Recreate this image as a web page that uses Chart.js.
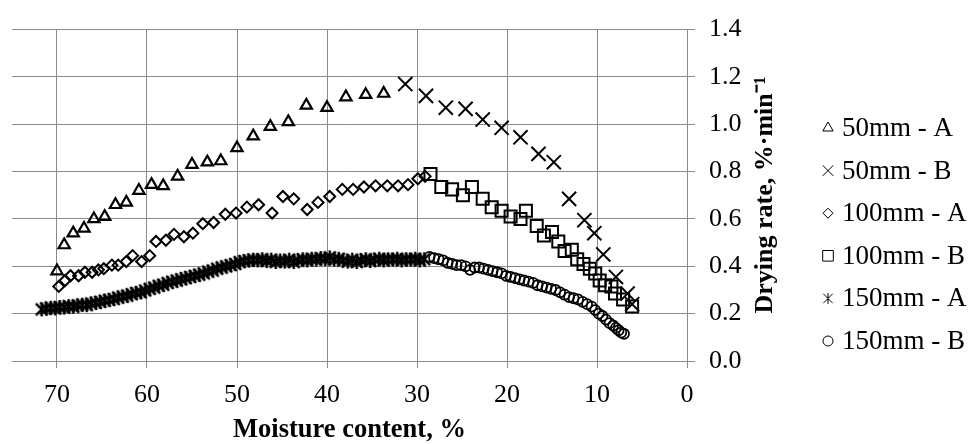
<!DOCTYPE html>
<html>
<head>
<meta charset="utf-8">
<script src="https://cdn.jsdelivr.net/npm/chart.js@4/dist/chart.umd.min.js"></script>
<style>
  html, body { margin: 0; padding: 0; background: #fff; }
</style>
</head>
<body>
<canvas id="chart1" width="969" height="444"></canvas>
<script>
// moisture content (%) and drying rate (%/min) for each run
var mc50A = [70.0, 69.2, 68.2, 67.0, 65.9, 64.7, 63.5, 62.3, 60.9, 59.5, 58.2, 56.6, 55.0, 53.3, 51.8, 50.0, 48.2, 46.3, 44.3, 42.3, 40.0, 37.9, 35.7, 33.7];
var dr50A = [0.38, 0.49, 0.54, 0.56, 0.60, 0.61, 0.66, 0.67, 0.72, 0.745, 0.74, 0.78, 0.83, 0.84, 0.845, 0.90, 0.95, 0.99, 1.01, 1.08, 1.07, 1.115, 1.125, 1.13];

var mc50B = [31.3, 29.0, 26.8, 24.6, 22.7, 20.6, 18.5, 16.5, 14.8, 13.1, 11.4, 10.3, 9.3, 7.9, 6.6, 6.1];
var dr50B = [1.17, 1.12, 1.07, 1.065, 1.02, 0.985, 0.945, 0.875, 0.84, 0.685, 0.595, 0.54, 0.45, 0.355, 0.285, 0.24];

var mc100A = [69.8, 69.1, 68.5, 67.6, 66.9, 66.1, 65.4, 64.8, 63.9, 63.2, 62.3, 61.6, 60.6, 59.7, 59.0, 57.9, 57.0, 55.9, 54.9, 53.8, 52.6, 51.3, 50.1, 48.9, 47.6, 46.1, 44.9, 43.7, 42.2, 41.0, 39.7, 38.3, 37.1, 35.9, 34.6, 33.3, 32.1, 31.0, 29.9, 29.1];
var dr100A = [0.315, 0.34, 0.36, 0.36, 0.375, 0.375, 0.385, 0.39, 0.405, 0.405, 0.42, 0.445, 0.42, 0.445, 0.505, 0.51, 0.535, 0.525, 0.54, 0.58, 0.585, 0.62, 0.625, 0.65, 0.66, 0.625, 0.695, 0.685, 0.64, 0.67, 0.695, 0.725, 0.725, 0.735, 0.74, 0.74, 0.74, 0.745, 0.77, 0.78];

var mc100B = [28.5, 27.3, 26.1, 24.9, 23.9, 22.7, 21.7, 20.6, 19.6, 18.5, 17.9, 16.7, 15.9, 15.0, 14.3, 13.6, 12.8, 12.2, 11.5, 10.8, 10.2, 9.7, 9.1, 8.4, 8.0, 7.1, 6.1];
var dr100B = [0.79, 0.735, 0.725, 0.70, 0.735, 0.685, 0.65, 0.635, 0.61, 0.60, 0.635, 0.57, 0.53, 0.545, 0.505, 0.465, 0.47, 0.43, 0.41, 0.39, 0.37, 0.34, 0.32, 0.315, 0.285, 0.26, 0.23];

var mc150A = [71.7, 71.2, 70.7, 70.2, 69.7, 69.2, 68.7, 68.2, 67.7, 67.2, 66.7, 66.2, 65.7, 65.2, 64.7, 64.2, 63.7, 63.2, 62.7, 62.2, 61.7, 61.2, 60.7, 60.2, 59.7, 59.2, 58.7, 58.2, 57.7, 57.2, 56.7, 56.2, 55.7, 55.2, 54.7, 54.2, 53.7, 53.2, 52.7, 52.2, 51.7, 51.2, 50.7, 50.2, 49.7, 49.2, 48.7, 48.2, 47.7, 47.2, 46.7, 46.2, 45.7, 45.2, 44.7, 44.2, 43.7, 43.2, 42.7, 42.2, 41.7, 41.2, 40.7, 40.2, 39.7, 39.2, 38.7, 38.2, 37.7, 37.2, 36.7, 36.2, 35.7, 35.2, 34.7, 34.2, 33.7, 33.2, 32.7, 32.2, 31.7, 31.2, 30.7, 30.2, 29.7, 29.2];
var dr150A = [0.218, 0.222, 0.225, 0.222, 0.228, 0.226, 0.232, 0.229, 0.235, 0.238, 0.236, 0.243, 0.246, 0.25, 0.255, 0.258, 0.262, 0.268, 0.272, 0.276, 0.282, 0.288, 0.29, 0.298, 0.305, 0.31, 0.318, 0.322, 0.33, 0.335, 0.34, 0.345, 0.35, 0.355, 0.36, 0.365, 0.37, 0.378, 0.382, 0.39, 0.395, 0.40, 0.405, 0.41, 0.418, 0.422, 0.425, 0.428, 0.425, 0.43, 0.422, 0.428, 0.418, 0.425, 0.42, 0.428, 0.418, 0.425, 0.43, 0.425, 0.432, 0.428, 0.435, 0.43, 0.438, 0.428, 0.432, 0.425, 0.42, 0.428, 0.418, 0.425, 0.43, 0.422, 0.428, 0.432, 0.425, 0.43, 0.428, 0.432, 0.425, 0.43, 0.428, 0.432, 0.425, 0.43];

var mc150B = [28.6, 28.1, 27.6, 27.1, 26.6, 26.1, 25.6, 25.1, 24.6, 24.1, 23.6, 23.1, 22.6, 22.1, 21.6, 21.1, 20.6, 20.1, 19.6, 19.1, 18.6, 18.1, 17.6, 17.1, 16.6, 16.1, 15.6, 15.1, 14.6, 14.1, 13.6, 13.1, 12.6, 12.1, 11.6, 11.1, 10.6, 10.2, 9.8, 9.4, 9.0, 8.6, 8.2, 7.9, 7.6, 7.3, 7.0];
var dr150B = [0.44, 0.435, 0.43, 0.425, 0.415, 0.41, 0.405, 0.405, 0.40, 0.385, 0.395, 0.395, 0.39, 0.385, 0.38, 0.375, 0.37, 0.36, 0.355, 0.35, 0.345, 0.34, 0.335, 0.33, 0.32, 0.315, 0.31, 0.305, 0.30, 0.29, 0.28, 0.27, 0.265, 0.26, 0.25, 0.24, 0.23, 0.215, 0.20, 0.19, 0.175, 0.16, 0.15, 0.14, 0.13, 0.12, 0.115];

var seriesLabels = ["50mm - A", "50mm - B", "100mm - A", "100mm - B", "150mm - A", "150mm - B"];
var xTitle = "Moisture content, %";
var yTitle = "Drying rate, %\u00b7min\u207b\u00b9";

var FONT = "'Liberation Serif', 'Times New Roman', serif";

// six-spoke asterisk like the spreadsheet marker
function asterisk(size, lw) {
    var c = document.createElement("canvas");
    c.width = size; c.height = size;
    var g = c.getContext("2d");
    var m = size / 2, r = size / 2 - 1;
    g.strokeStyle = "#000";
    g.lineWidth = lw;
    g.beginPath();
    g.moveTo(m - r * 0.85, m - r * 0.85); g.lineTo(m + r * 0.85, m + r * 0.85);
    g.moveTo(m + r * 0.85, m - r * 0.85); g.lineTo(m - r * 0.85, m + r * 0.85);
    g.moveTo(m, m - r); g.lineTo(m, m + r);
    g.stroke();
    return c;
}

function pts(xs, ys) {
    var out = [];
    for (var i = 0; i < xs.length; i++) out.push({x: xs[i], y: ys[i]});
    return out;
}

function series(label, xs, ys, style, radius, bw, legendStyle, legendRadius) {
    return {
        label: label,
        data: pts(xs, ys),
        showLine: false,
        pointStyle: style,
        pointRadius: radius,
        pointHoverRadius: radius,
        pointBorderWidth: bw,
        pointBorderColor: "#000",
        pointBackgroundColor: "rgba(0,0,0,0)",
        legendStyle: legendStyle,
        legendRadius: legendRadius
    };
}

var data = {
    datasets: [
        series(seriesLabels[0], mc50A, dr50A, "triangle", 6.5, 2.2, "triangle", 6),
        series(seriesLabels[1], mc50B, dr50B, "crossRot", 10, 2, "crossRot", 7.5),
        series(seriesLabels[2], mc100A, dr100A, "rectRot", 5.5, 2, "rectRot", 5),
        series(seriesLabels[3], mc100B, dr100B, "rect", 8.5, 2, "rect", 7.5),
        series(seriesLabels[4], mc150A, dr150A, asterisk(16, 2.4), 8, 2, asterisk(13, 1), 6),
        series(seriesLabels[5], mc150B, dr150B, "circle", 5, 1.8, "circle", 5)
    ]
};

// y title reads bottom-to-top on the right side, legend sits right of it
var sidePlugin = {
    id: "side",
    afterDraw: function(chart) {
        var ctx = chart.ctx;
        ctx.save();
        ctx.fillStyle = "#000";
        ctx.font = "bold 26px " + FONT;
        ctx.textAlign = "center";
        ctx.textBaseline = "middle";
        ctx.translate(765, 195);
        ctx.rotate(-Math.PI / 2);
        ctx.fillText(yTitle, 0, 0);
        ctx.restore();

        ctx.save();
        ctx.font = "27px " + FONT;
        ctx.textAlign = "left";
        ctx.textBaseline = "middle";
        chart.data.datasets.forEach(function(ds, i) {
            var y = 128 + i * 42.6;
            ctx.strokeStyle = "#000";
            ctx.fillStyle = "rgba(0,0,0,0)";
            ctx.lineWidth = 1;
            Chart.helpers.drawPoint(ctx, {
                pointStyle: ds.legendStyle,
                radius: ds.legendRadius,
                rotation: 0,
                borderWidth: 1
            }, 828, y);
            ctx.fillStyle = "#000";
            ctx.fillText(ds.label, 842, y + 1);
        });
        ctx.restore();
    }
};

Chart.defaults.font.family = FONT;
Chart.defaults.font.size = 26;
Chart.defaults.color = "#000";

var ctx = document.getElementById("chart1").getContext("2d");
var chart1 = new Chart(ctx, {
    type: "scatter",
    data: data,
    plugins: [sidePlugin],
    options: {
        responsive: false,
        animation: false,
        layout: { padding: { left: 11, top: 22, right: 182, bottom: 0 } },
        plugins: {
            legend: { display: false },
            tooltip: { enabled: false }
        },
        scales: {
            x: {
                type: "linear",
                reverse: true,
                min: 0,
                max: 75,
                afterFit: function(scale) { scale.height = 83; },
                ticks: { stepSize: 10, includeBounds: false, padding: 12, maxRotation: 0 },
                grid: { color: "#8a8a8a", lineWidth: 1, tickLength: 7 },
                border: { display: true, color: "#8a8a8a" },
                title: {
                    display: true,
                    text: xTitle,
                    font: { size: 26.5, weight: "bold", lineHeight: 1.05 },
                    padding: { top: 0, bottom: 0 }
                }
            },
            y: {
                position: "right",
                min: 0,
                max: 1.4,
                afterFit: function(scale) { scale.width = 100; },
                ticks: {
                    stepSize: 0.2,
                    padding: 14,
                    callback: function(v) { return v.toFixed(1); }
                },
                grid: { color: "#8a8a8a", lineWidth: 1, tickLength: 8 },
                border: { display: true, color: "#8a8a8a" }
            }
        }
    }
});
</script>
</body>
</html>
